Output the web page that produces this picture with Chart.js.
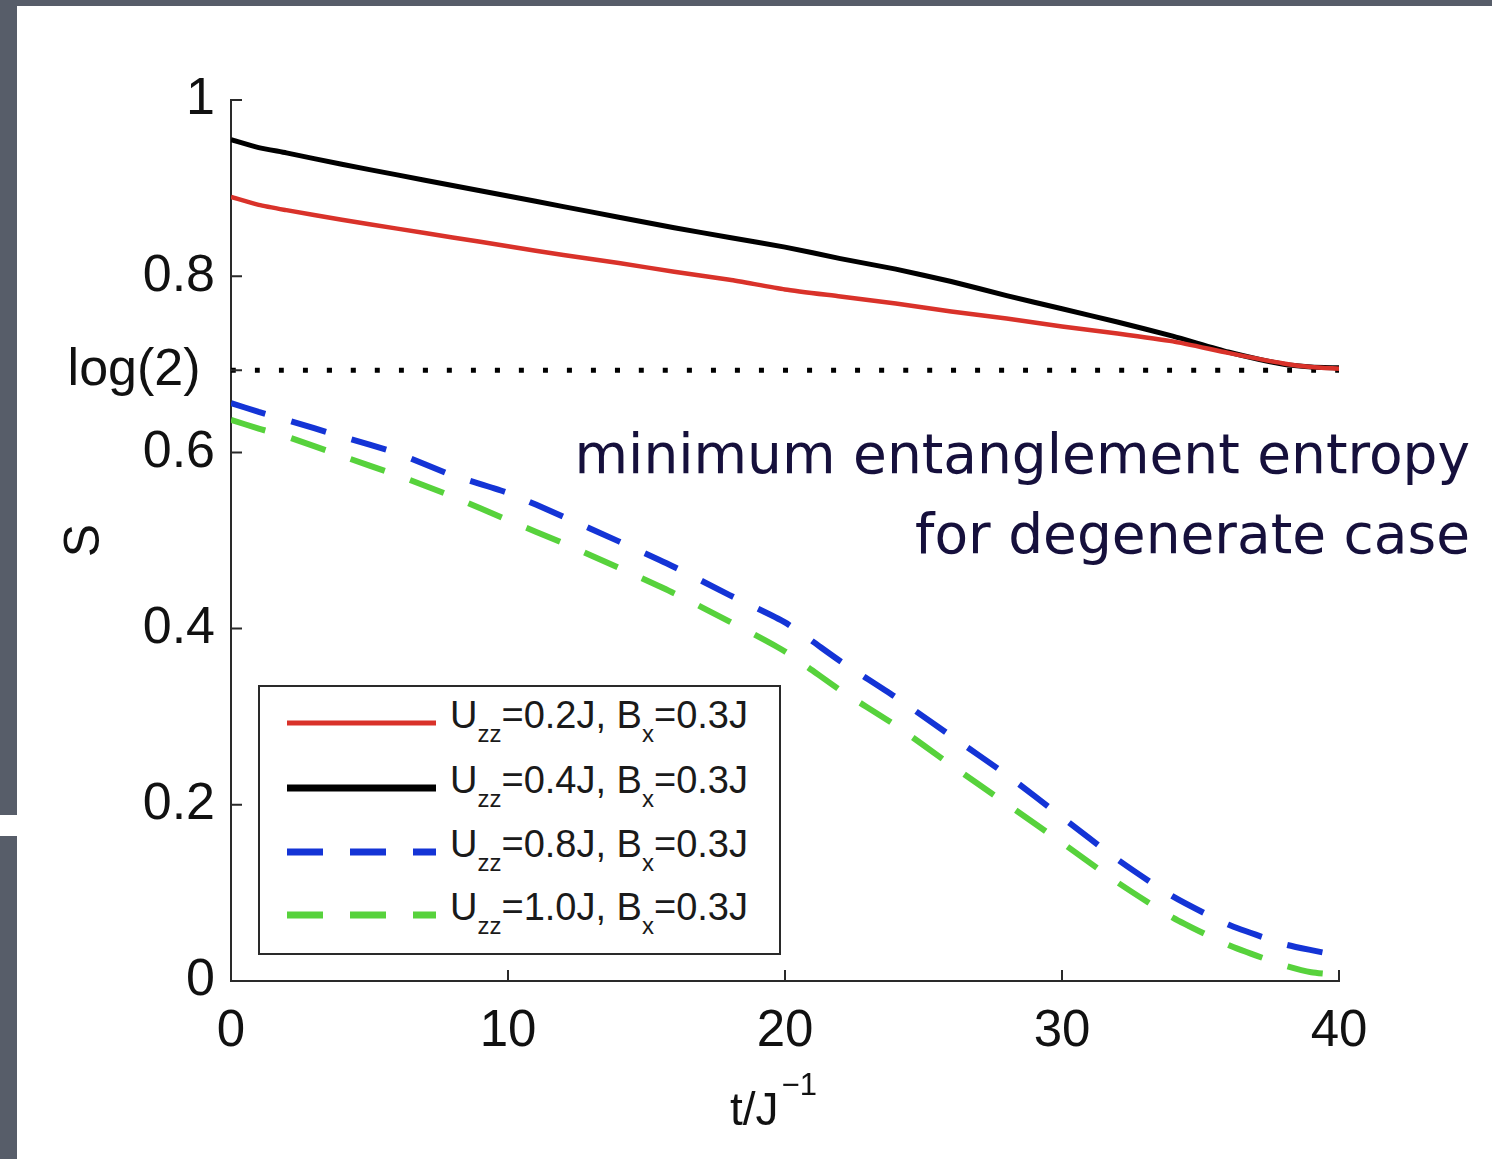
<!DOCTYPE html>
<html>
<head>
<meta charset="utf-8">
<title>Entanglement entropy S(t)</title>
<script src="https://cdn.jsdelivr.net/npm/chart.js@4.4.1/dist/chart.umd.min.js"></script>
<style>
  html, body { margin: 0; padding: 0; }
  body { width: 1492px; height: 1159px; background: #575d69; position: relative; overflow: hidden; }
  .sheet { position: absolute; left: 17px; top: 6px; right: 0; bottom: 0; background: #fff; }
  .notch { position: absolute; left: 0; top: 815px; width: 17px; height: 21px; background: #fff; }
  .plot { position: absolute; left: 0; top: 0; width: 1492px; height: 1159px; }
  #legend {
    position: absolute; width: 523px; height: 270px; box-sizing: border-box;
    border: 2px solid #2a2a2a; background: #fff;
    font-family: "Liberation Sans", Arial, Helvetica, sans-serif; color: #1a1a1a;
  }
  #legend svg { position: absolute; left: 27px; }
  #legend .txt { position: absolute; left: 190px; font-size: 38px; line-height: 38px; white-space: nowrap; }
  #legend sub { font-size: 24px; line-height: 0; vertical-align: -14px; }
  .note {
    position: absolute; right: 22px; top: 414px; text-align: right;
    font-family: "DejaVu Sans", sans-serif; font-size: 55px; line-height: 80px; color: #16103c;
  }
</style>
</head>
<body>
<div class="sheet"></div>
<div class="notch"></div>
<div class="plot"><canvas id="chart"></canvas></div>
<div id="legend"></div>
<div class="note">minimum entanglement entropy<br>for degenerate case</div>

<script>
// time axis t/J^-1
const timeSteps = [0, 1, 2, 4, 6, 8, 10, 12, 14, 16, 18, 20, 22, 24, 26, 28, 30, 32, 34, 36, 38, 39, 40];

// entropy S for each coupling
const entropyU02 = [0.890, 0.881, 0.875, 0.864, 0.854, 0.844, 0.834, 0.824, 0.815, 0.805, 0.796, 0.785, 0.777, 0.769, 0.760, 0.752, 0.743, 0.735, 0.726, 0.713, 0.701, 0.697, 0.695];
const entropyU04 = [0.955, 0.946, 0.940, 0.927, 0.915, 0.903, 0.891, 0.879, 0.867, 0.855, 0.844, 0.833, 0.820, 0.808, 0.794, 0.778, 0.763, 0.748, 0.732, 0.714, 0.700, 0.697, 0.696];
const entropyU08 = [0.656, 0.646, 0.637, 0.618, 0.599, 0.574, 0.554, 0.527, 0.499, 0.470, 0.438, 0.407, 0.363, 0.322, 0.278, 0.234, 0.186, 0.138, 0.096, 0.064, 0.042, 0.035, 0.029];
const entropyU10 = [0.637, 0.627, 0.618, 0.596, 0.574, 0.550, 0.523, 0.497, 0.469, 0.440, 0.408, 0.374, 0.330, 0.290, 0.245, 0.201, 0.157, 0.112, 0.072, 0.041, 0.018, 0.010, 0.007];

const uzzValues = ['0.2', '0.4', '0.8', '1.0'];
const bxValue = '0.3';
const seriesLabels = uzzValues.map(u => `U_zz=${u}J, B_x=${bxValue}J`);

const LOG2 = Math.log(2);
const xTicks = [0, 10, 20, 30, 40];
const yTicks = [0, 0.2, 0.4, 0.6, LOG2, 0.8, 1];

const toPoints = (ys) => ys.map((y, i) => ({ x: timeSteps[i], y: y }));

const FONT = '"Liberation Sans", Arial, Helvetica, sans-serif';
Chart.defaults.font.family = FONT;
Chart.defaults.color = '#111';

// ticks pointing into the plot, like matlab
const innerTicks = {
    id: 'innerTicks',
    afterDraw(chart) {
        const { ctx, scales: { x, y } } = chart;
        ctx.save();
        ctx.strokeStyle = '#2a2a2a';
        ctx.lineWidth = 2;
        ctx.beginPath();
        x.ticks.forEach(t => {
            const px = x.getPixelForValue(t.value);
            ctx.moveTo(px, x.top);
            ctx.lineTo(px, x.top - 11);
        });
        y.ticks.forEach(t => {
            const py = y.getPixelForValue(t.value);
            ctx.moveTo(y.right, py);
            ctx.lineTo(y.right + 11, py);
        });
        ctx.stroke();
        ctx.restore();
    }
};

// x axis title with the superscript
const timeAxisTitle = {
    id: 'timeAxisTitle',
    afterDraw(chart) {
        const { ctx, scales: { x } } = chart;
        const cx = (x.left + x.right) / 2;
        ctx.save();
        ctx.fillStyle = '#111';
        ctx.textAlign = 'left';
        ctx.textBaseline = 'alphabetic';
        ctx.font = '46px ' + FONT;
        const mainW = ctx.measureText('t/J').width;
        const start = cx - 55;
        ctx.fillText('t/J', start, x.top + 144);
        ctx.font = '31px ' + FONT;
        ctx.fillText('\u22121', start + mainW + 3, x.top + 114);
        ctx.restore();
    }
};

// legend in html so the subscripts stay text
const htmlLegend = {
    id: 'htmlLegend',
    afterUpdate(chart) {
        const box = document.getElementById('legend');
        const area = chart.chartArea;
        box.style.left = (area.left + 27) + 'px';
        box.style.top = (area.top + 585) + 'px';
        box.innerHTML = '';
        const rowY = [36, 101, 165, 228];
        chart.data.datasets.forEach((ds, i) => {
            if (i >= seriesLabels.length) return;
            const dash = ds.borderDash && ds.borderDash.length ? ds.borderDash.join(' ') : 'none';
            const w = i === 1 ? 7 : (ds.borderDash && ds.borderDash.length ? 7 : 5);
            const svg = `<svg width="150" height="12" style="top:${rowY[i] - 6}px">
                <line x1="0" y1="6" x2="149" y2="6" stroke="${ds.borderColor}" stroke-width="${w}" stroke-dasharray="${dash}"/></svg>`;
            const html = ds.label.replace(/_(\w+)/g, '<sub>$1</sub>');
            box.insertAdjacentHTML('beforeend', svg + `<div class="txt" style="top:${rowY[i] - 27}px">${html}</div>`);
        });
    }
};

new Chart(document.getElementById('chart'), {
    type: 'line',
    data: {
        datasets: [
            { label: seriesLabels[0], data: toPoints(entropyU02), borderColor: '#d9322a', borderWidth: 4.5 },
            { label: seriesLabels[1], data: toPoints(entropyU04), borderColor: '#000000', borderWidth: 5 },
            { label: seriesLabels[2], data: toPoints(entropyU08), borderColor: '#1434d6', borderWidth: 6, borderDash: [36, 27] },
            { label: seriesLabels[3], data: toPoints(entropyU10), borderColor: '#57d23c', borderWidth: 6, borderDash: [36, 27] },
            { label: 'log(2)', data: [{ x: 0, y: LOG2 }, { x: 40, y: LOG2 }], borderColor: '#000000', borderWidth: 5, borderDash: [5, 19] }
        ]
    },
    options: {
        responsive: true,
        maintainAspectRatio: false,
        animation: false,
        layout: { padding: { top: 100, right: 153, left: 0, bottom: 0 } },
        elements: {
            point: { radius: 0 },
            line: { tension: 0.2, borderCapStyle: 'butt', fill: false }
        },
        scales: {
            x: {
                type: 'linear',
                min: 0,
                max: 40,
                afterBuildTicks: (scale) => { scale.ticks = xTicks.map(v => ({ value: v })); },
                afterFit: (scale) => { scale.height = 178; },
                grid: { display: false, drawTicks: false },
                border: { display: true, color: '#2a2a2a', width: 2 },
                ticks: { padding: 20, font: { size: 51 }, color: '#111' }
            },
            y: {
                min: 0,
                max: 1,
                afterBuildTicks: (scale) => { scale.ticks = yTicks.map(v => ({ value: v })); },
                afterFit: (scale) => { scale.width = 231; },
                grid: { display: false, drawTicks: false },
                border: { display: true, color: '#2a2a2a', width: 2 },
                ticks: {
                    padding: 16,
                    font: { size: 52 },
                    color: '#111',
                    callback: (value) => Math.abs(value - LOG2) < 1e-9 ? 'log(2) ' : String(value)
                },
                title: {
                    display: true,
                    text: 'S',
                    font: { size: 50 },
                    color: '#111',
                    padding: { top: 55, bottom: 0 }
                }
            }
        },
        plugins: {
            legend: { display: false },
            tooltip: { enabled: false }
        }
    },
    plugins: [innerTicks, timeAxisTitle, htmlLegend]
});
</script>
</body>
</html>
